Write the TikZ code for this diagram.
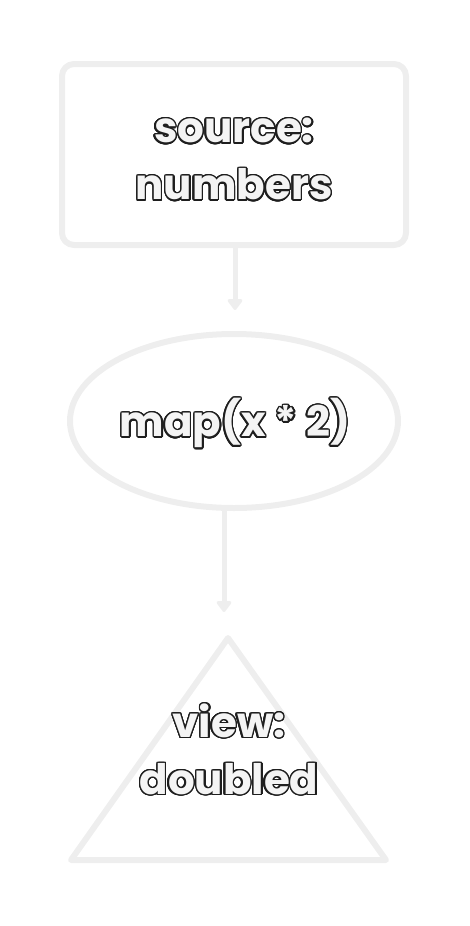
\documentclass[tikz,border=0pt]{standalone}
\usepackage{fontspec}
\setmainfont{Poppins}[BoldFont={* Bold}]
\usepackage[copies]{contour}
\usetikzlibrary{shapes.geometric,arrows.meta}
\contourlength{1.4pt}
\contournumber{24}
\definecolor{shapeline}{HTML}{EEEEEE}
\definecolor{txtfill}{HTML}{F4F4F4}
\definecolor{txtline}{HTML}{1E1E1E}
\newcommand{\otext}[1]{\contour{txtline}{\textcolor{txtfill}{#1}}}
\tikzset{
  shapestyle/.style={draw=shapeline, line width=6pt, line join=round},
  lbl/.style={font=\bfseries\fontsize{42}{57}\selectfont, align=center, inner sep=0pt},
  conn/.style={draw=shapeline, line width=5pt, -{Triangle[length=12pt,width=17pt,round]}}
}
\begin{document}
\begin{tikzpicture}[x=1pt,y=-1pt]
\useasboundingbox (0,0) rectangle (470,926);
\draw[shapestyle, rounded corners=12pt] (62,64) rectangle (406,245);
\coordinate (srcb) at (235,245);
\node[lbl] (src) at (234,160) {\otext{source:}\\\otext{numbers}};
\draw[shapestyle] (234,421) ellipse [x radius=164, y radius=87];
\coordinate (mapb) at (224,508);
\node[lbl] (map) at (235,424) {\otext{map(x * 2)}};
\draw[shapestyle] (228,638) -- (386,860) -- (71,860) -- cycle;
\coordinate (viewt) at (224,612);
\node[lbl] (view) at (229,750) {\otext{view:}\\\otext{doubled}};
\draw[conn] (srcb) -- (235,310);
\draw[conn] (mapb) -- (viewt);
\end{tikzpicture}
\end{document}
